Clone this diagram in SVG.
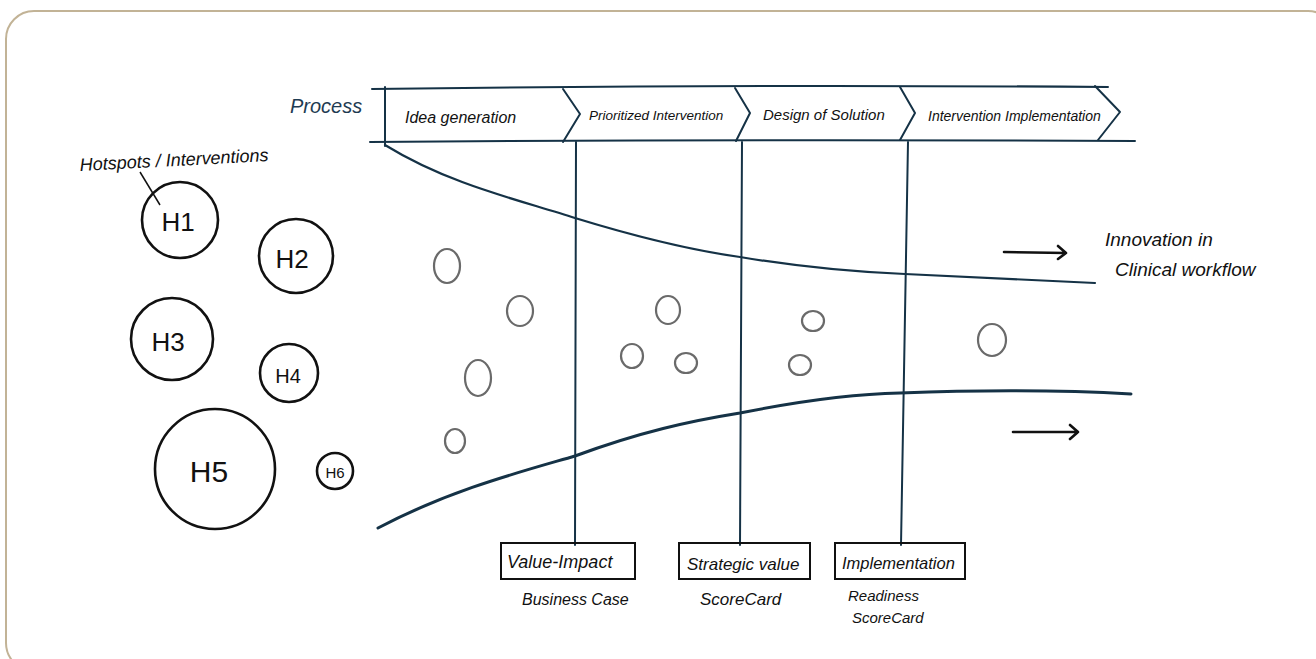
<svg xmlns="http://www.w3.org/2000/svg" width="1316" height="659" viewBox="0 0 1316 659">
<style>
.frame{fill:#fff;stroke:#c2b396;stroke-width:2}
.navy{fill:none;stroke:#153246;stroke-width:2;stroke-linecap:round;stroke-linejoin:round}
.flow{fill:none;stroke:#153246;stroke-linecap:round}
.ink{fill:none;stroke:#111;stroke-width:2.6;stroke-linecap:round;stroke-linejoin:round}
.dot{fill:none;stroke:#6a6a6a;stroke-width:2.2}
.t{font-family:"Liberation Sans",Arial,sans-serif;fill:#111;font-style:italic}
.hs{font-family:"Liberation Sans",Arial,sans-serif;fill:#111;font-size:26px;text-anchor:middle}
.box{fill:none;stroke:#111;stroke-width:2}
</style>
<rect class="frame" x="6" y="11" width="1330" height="660" rx="28"/>

<g id="process">
<text class="t" x="290" y="113" font-size="20" style="fill:#1e3b52">Process</text>
<path class="navy" d="M372 89 Q740 84 1108 87"/>
<path class="navy" d="M370 142 Q750 139 1135 141"/>
<path class="navy" d="M385 87 L385 146"/>
<path class="navy" d="M563 89 L580 114 L563 142"/>
<path class="navy" d="M735 88 L750 113 L736 141"/>
<path class="navy" d="M900 87 L915 113 L900 140"/>
<path class="navy" d="M1095 86 L1120 112 L1098 140"/>
</g>
<g id="step1"><text class="t" x="405" y="123" font-size="16">Idea generation</text></g>
<g id="step2"><text class="t" x="589" y="120" font-size="13.5">Prioritized Intervention</text></g>
<g id="step3"><text class="t" x="763" y="120" font-size="15">Design of Solution</text></g>
<g id="step4"><text class="t" x="928" y="121" font-size="14">Intervention Implementation</text></g>

<g id="connectors">
<path class="flow" stroke-width="2" d="M576 142 L575 545"/>
<path class="flow" stroke-width="2" d="M742 142 L740 545"/>
<path class="flow" stroke-width="2" d="M908 142 L901 545"/>
<path class="flow" stroke-width="2.2" d="M385 145 C450 185 520 200 575 218 C640 238 690 250 740 257 C800 267 850 272 905 274 C980 278 1040 280 1095 283"/>
<path class="flow" stroke-width="3" d="M378 528 C450 490 520 472 575 456 C640 432 690 421 740 413 C800 401 850 394 900 393 C980 390 1060 390 1131 394"/>
<path class="ink" d="M1004 252 L1066 253 M1058 246 L1066 253 L1058 259"/>
<path class="ink" d="M1013 432 L1078 432 M1070 425 L1078 432 L1070 439"/>
<path d="M140 172 L160 205" stroke="#111" stroke-width="1.5" fill="none"/>
</g>

<g id="innovation">
<text class="t" x="1105" y="246" font-size="19">Innovation in</text>
<text class="t" x="1115" y="276" font-size="19">Clinical workflow</text>
</g>

<g id="hotspots-label"><text class="t" x="80" y="171" font-size="18" transform="rotate(-3 80 171)">Hotspots / Interventions</text></g>
<g id="H1"><circle class="ink" cx="180" cy="220" r="38"/><text class="hs" x="178" y="231">H1</text></g>
<g id="H2"><circle class="ink" cx="296" cy="256" r="37"/><text class="hs" x="292" y="268">H2</text></g>
<g id="H3"><circle class="ink" cx="172" cy="339" r="41"/><text class="hs" x="168" y="351">H3</text></g>
<g id="H4"><circle class="ink" cx="289" cy="373" r="29"/><text class="hs" x="288" y="383" style="font-size:20px">H4</text></g>
<g id="H5"><circle class="ink" cx="215" cy="469" r="60"/><text class="hs" x="209" y="482" style="font-size:30px">H5</text></g>
<g id="H6"><circle class="ink" cx="335" cy="471" r="18"/><text class="hs" x="335" y="478" style="font-size:15px">H6</text></g>

<g id="ideas">
<ellipse class="dot" cx="447" cy="266" rx="13" ry="17"/>
<ellipse class="dot" cx="520" cy="311" rx="13" ry="15"/>
<ellipse class="dot" cx="478" cy="378" rx="13" ry="18"/>
<ellipse class="dot" cx="455" cy="441" rx="10" ry="12"/>
<ellipse class="dot" cx="668" cy="310" rx="12" ry="14"/>
<ellipse class="dot" cx="632" cy="356" rx="11" ry="12"/>
<ellipse class="dot" cx="686" cy="363" rx="11" ry="10"/>
<ellipse class="dot" cx="813" cy="321" rx="11" ry="10"/>
<ellipse class="dot" cx="800" cy="365" rx="11" ry="10"/>
<ellipse class="dot" cx="992" cy="340" rx="14" ry="16"/>
</g>

<g id="value-impact">
<rect class="box" x="501" y="543" width="134" height="36"/>
<text class="t" x="507" y="568" font-size="18">Value-Impact</text>
<text class="t" x="522" y="605" font-size="16">Business Case</text>
</g>
<g id="strategic-value">
<rect class="box" x="679" y="543" width="131" height="36"/>
<text class="t" x="687" y="570" font-size="17">Strategic value</text>
<text class="t" x="700" y="605" font-size="17">ScoreCard</text>
</g>
<g id="implementation">
<rect class="box" x="835" y="543" width="130" height="36"/>
<text class="t" x="842" y="569" font-size="16.5">Implementation</text>
<text class="t" x="848" y="601" font-size="15">Readiness</text>
<text class="t" x="852" y="623" font-size="15">ScoreCard</text>
</g>
</svg>
